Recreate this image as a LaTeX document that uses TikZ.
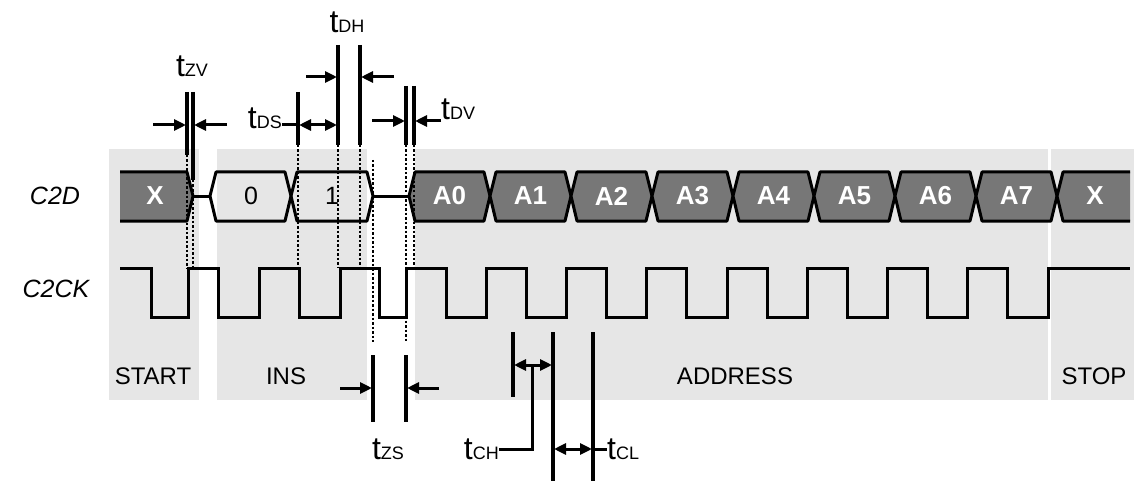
\documentclass[tikz,border=0pt]{standalone}
\usepackage{fontspec}
\setmainfont{Liberation Sans}
\usetikzlibrary{arrows.meta}

\definecolor{busgrau}{RGB}{119,119,119}
\definecolor{hellgrau}{RGB}{230,230,230}

% t mit kleinem Index
\newcommand{\tzeit}[1]{{\fontsize{32}{34}\selectfont t}{\fontsize{18}{20}\selectfont #1}}

\tikzset{
  bus/.style={line width=3pt, line join=round},
  takt/.style={line width=3pt},
  marke/.style={line width=3.5pt},
  hilfs/.style={line width=1.8pt, dash pattern=on 2.5pt off 2pt},
  pfeil/.style={line width=3pt, -{Triangle[length=12pt,width=11pt]}},
  doppelpfeil/.style={line width=3pt, {Triangle[length=12pt,width=11pt]}-{Triangle[length=12pt,width=11pt]}},
  zeit/.style={inner sep=0pt},
  signal/.style={font=\fontsize{25}{28}\selectfont\itshape},
  phase/.style={font=\fontsize{24}{26}\selectfont},
  wert/.style={font=\fontsize{25}{28}\selectfont},
  adresse/.style={font=\fontsize{26}{28}\selectfont\bfseries, text=white}
}

\begin{document}
\begin{tikzpicture}[x=1pt, y=-1pt]
  \useasboundingbox (0,0) rectangle (1134,481);

  % Phasen
  \fill[hellgrau] (109,149) rectangle (199,400);
  \fill[hellgrau] (217,149) rectangle (367,400);
  \fill[hellgrau] (415,149) rectangle (1048,400);
  \fill[hellgrau] (1051,149) rectangle (1134,400);
  \node[phase] (start) at (153,376) {START};
  \node[phase] (ins) at (286,376) {INS};
  \node[phase] (address) at (735,376) {ADDRESS};
  \node[phase] (stop) at (1094,376) {STOP};

  % Signalnamen
  \node[signal] (c2d) at (55,196) {C2D};
  \node[signal] (c2ck) at (56,289) {C2CK};

  % C2D
  \fill[busgrau] (120,172) -- (187,172) -- (193,196) -- (187,221) -- (120,221) -- cycle;
  \draw[bus] (120,172) -- (187,172) -- (193,196) -- (187,221) -- (120,221);
  \node[adresse] (x0) at (155,196) {X};
  \draw[bus] (193,196) -- (210,196);
  \draw[bus] (210,196) -- (216,172) -- (285,172) -- (291,196) -- (285,221) -- (216,221) -- cycle;
  \node[wert] (b0) at (251,196) {0};
  \draw[bus] (291,196) -- (297,172) -- (367,172) -- (373,196) -- (367,221) -- (297,221) -- cycle;
  \node[wert] (b1) at (332,196) {1};
  \draw[bus] (373,196) -- (409,196);
  \foreach \i [evaluate=\i as \a using 409+81*\i] in {0,...,7} {
    \filldraw[bus, fill=busgrau] (\a,196) -- ({\a+6},172) -- ({\a+75},172)
      -- ({\a+81},196) -- ({\a+75},221) -- ({\a+6},221) -- cycle;
    \node[adresse] (a\i) at ({\a+40.5},196) {A\i};
  }
  \fill[busgrau] (1057,196) -- (1063,172) -- (1130,172) -- (1130,221) -- (1063,221) -- cycle;
  \draw[bus] (1130,172) -- (1063,172) -- (1057,196) -- (1063,221) -- (1130,221);
  \node[adresse] (x1) at (1095,196) {X};

  % Hilfslinien
  \foreach \x/\o/\m/\u in {187/92/155/268, 193/92/180/268, 298/92/145/268,
      338/45/145/268, 360/45/145/268, 406/86/145/342, 414/86/145/268} {
    \draw[marke] (\x,\o) -- (\x,\m);
    \draw[hilfs] (\x,\m) -- (\x,\u);
  }
  \draw[hilfs] (373,160) -- (373,342);

  % C2CK
  \draw[takt] (120,268) -- (151,268) -- (151,317) -- (188,317) -- (188,268)
    -- (218,268) -- (218,317) -- (259,317) -- (259,268) -- (299,268) -- (299,317)
    -- (340,317) -- (340,268) -- (379,268) -- (379,317) -- (406,317) -- (406,268)
    \foreach \k in {0,...,7} {
      -- ({446+80.25*\k},268) -- ({446+80.25*\k},317)
      -- ({486.25+80.25*\k},317) -- ({486.25+80.25*\k},268)
    }
    -- (1130,268);

  % tZV
  \node[zeit, anchor=base] (tzv) at (192,77) {\tzeit{ZV}};
  \draw[pfeil] (153,125) -- (186,125);
  \draw[pfeil] (227,125) -- (194,125);

  % tDS
  \node[zeit, anchor=base east] (tds) at (282,129) {\tzeit{DS}};
  \coordinate (ds) at (298,125);
  \draw[takt] (tds.east |- ds) -- (ds);
  \draw[doppelpfeil] (299,125) -- (337,125);

  % tDH
  \node[zeit, anchor=base] (tdh) at (347,33) {\tzeit{DH}};
  \draw[pfeil] (306,77) -- (337,77);
  \draw[pfeil] (394,77) -- (361,77);

  % tDV
  \node[zeit, anchor=base west] (tdv) at (441,120) {\tzeit{DV}};
  \draw[pfeil] (372,121) -- (405,121);
  \draw[pfeil] (tdv.west |- 0,121) -- (415,121);

  % tZS
  \draw[marke] (373,355) -- (373,422);
  \draw[marke] (406,355) -- (406,422);
  \draw[pfeil] (340,388) -- (372,388);
  \draw[pfeil] (439,388) -- (407,388);
  \node[zeit, anchor=base] (tzs) at (388,459) {\tzeit{ZS}};

  % tCH, tCL
  \draw[marke] (513,332) -- (513,397);
  \draw[marke] (553,332) -- (553,481);
  \draw[marke] (593,332) -- (593,481);
  \draw[doppelpfeil] (514,365) -- (552,365);
  \draw[doppelpfeil] (554,449) -- (592,449);
  \node[zeit, anchor=base east] (tch) at (499,459) {\tzeit{CH}};
  \node[zeit, anchor=base west] (tcl) at (607,459) {\tzeit{CL}};
  \coordinate (ch) at (532,365);
  \draw[takt] (ch) |- (tch.east |- 0,449);
  \draw[takt] (593,449) -- (tcl.west |- 0,449);
\end{tikzpicture}
\end{document}
